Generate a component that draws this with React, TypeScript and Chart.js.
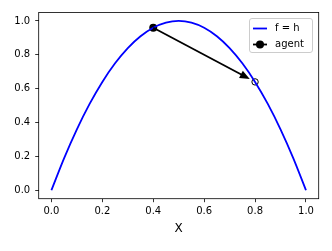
import React, { useEffect, useRef } from "react";
import { Chart, registerables } from "chart.js";
Chart.register(...registerables);

const curveX = [0, 0.05, 0.1, 0.15, 0.2, 0.25, 0.3, 0.35, 0.4, 0.45, 0.5, 0.55, 0.6, 0.65, 0.7, 0.75, 0.8, 0.85, 0.9, 0.95, 1.0];
const curveY = [0, 0.19, 0.36, 0.51, 0.64, 0.75, 0.84, 0.91, 0.96, 0.99, 1.0, 0.99, 0.96, 0.91, 0.84, 0.75, 0.64, 0.51, 0.36, 0.19, 0];
const agentX = [0.4];
const agentY = [0.96];
const targetX = [0.8];
const targetY = [0.64];
const xTicks = [0, 0.2, 0.4, 0.6, 0.8, 1.0];
const yTicks = [0, 0.2, 0.4, 0.6, 0.8, 1.0];
const seriesLabels = ["f = h", "agent"];
const xTitle = "X";

const FONT = "'DejaVu Sans', sans-serif";

const overlay = {
  id: "overlay",
  afterDatasetsDraw(chart: any) {
    const { ctx, scales } = chart;
    const xs = scales.x, ys = scales.y;
    const x0 = xs.getPixelForValue(agentX[0]);
    const y0 = ys.getPixelForValue(agentY[0]);
    const x1 = xs.getPixelForValue(targetX[0]);
    const y1 = ys.getPixelForValue(targetY[0]);
    const dx = x1 - x0, dy = y1 - y0;
    const len = Math.hypot(dx, dy);
    const ux = dx / len, uy = dy / len;
    const shrink = 6;
    const tx = x1 - ux * shrink, ty = y1 - uy * shrink;
    const headLen = 10, headW = 4;
    const bx = tx - ux * headLen, by = ty - uy * headLen;
    ctx.save();
    ctx.strokeStyle = "#000";
    ctx.fillStyle = "#000";
    ctx.lineWidth = 1.8;
    ctx.beginPath();
    ctx.moveTo(x0, y0);
    ctx.lineTo(bx + ux * 2, by + uy * 2);
    ctx.stroke();
    ctx.beginPath();
    ctx.moveTo(tx, ty);
    ctx.lineTo(bx - uy * headW, by + ux * headW);
    ctx.lineTo(bx + uy * headW, by - ux * headW);
    ctx.closePath();
    ctx.fill();
    ctx.restore();
  },
  afterDraw(chart: any) {
    const { ctx, chartArea } = chart;
    ctx.save();
    ctx.strokeStyle = "#000";
    ctx.lineWidth = 0.8;
    ctx.strokeRect(chartArea.left, chartArea.top, chartArea.right - chartArea.left, chartArea.bottom - chartArea.top);
    const lx = 249.5, ly = 18.5, lw = 63, lh = 34, r = 2.5;
    ctx.beginPath();
    ctx.moveTo(lx + r, ly);
    ctx.lineTo(lx + lw - r, ly);
    ctx.quadraticCurveTo(lx + lw, ly, lx + lw, ly + r);
    ctx.lineTo(lx + lw, ly + lh - r);
    ctx.quadraticCurveTo(lx + lw, ly + lh, lx + lw - r, ly + lh);
    ctx.lineTo(lx + r, ly + lh);
    ctx.quadraticCurveTo(lx, ly + lh, lx, ly + lh - r);
    ctx.lineTo(lx, ly + r);
    ctx.quadraticCurveTo(lx, ly, lx + r, ly);
    ctx.closePath();
    ctx.fillStyle = "rgba(255,255,255,0.8)";
    ctx.fill();
    ctx.strokeStyle = "#cccccc";
    ctx.lineWidth = 1;
    ctx.stroke();
    const rows = [28.5, 44.5];
    ctx.strokeStyle = "#0000ff";
    ctx.lineWidth = 1.8;
    ctx.beginPath();
    ctx.moveTo(253, rows[0]);
    ctx.lineTo(267, rows[0]);
    ctx.stroke();
    ctx.strokeStyle = "#000";
    ctx.beginPath();
    ctx.moveTo(253, rows[1]);
    ctx.lineTo(267, rows[1]);
    ctx.stroke();
    ctx.fillStyle = "#000";
    ctx.beginPath();
    ctx.arc(260, rows[1], 4, 0, Math.PI * 2);
    ctx.fill();
    ctx.font = `10px ${FONT}`;
    ctx.textBaseline = "middle";
    ctx.textAlign = "left";
    ctx.fillStyle = "#000";
    ctx.fillText(seriesLabels[0], 275, rows[0]);
    ctx.fillText(seriesLabels[1], 275, rows[1]);
    ctx.restore();
  },
};

export default function App() {
  const ref = useRef<HTMLCanvasElement>(null);
  useEffect(() => {
    const canvas = ref.current!;
    const chart = new Chart(canvas, {
      type: "scatter",
      data: {
        datasets: [
          {
            label: seriesLabels[0],
            data: curveX.map((x, i) => ({ x, y: curveY[i] })),
            showLine: true,
            borderColor: "#0000ff",
            borderWidth: 1.8,
            pointRadius: 0,
            cubicInterpolationMode: "monotone",
            fill: false,
          } as any,
          {
            label: seriesLabels[1],
            data: agentX.map((x, i) => ({ x, y: agentY[i] })),
            showLine: false,
            pointRadius: 4,
            pointBackgroundColor: "#000",
            pointBorderColor: "#000",
            pointBorderWidth: 0,
          },
          {
            label: "target",
            data: targetX.map((x, i) => ({ x, y: targetY[i] })),
            showLine: false,
            pointRadius: 3.2,
            pointBackgroundColor: "rgba(0,0,0,0)",
            pointBorderColor: "#000",
            pointBorderWidth: 1,
          },
        ],
      },
      options: {
        responsive: false,
        animation: false,
        events: [],
        layout: { padding: { left: 0, top: 12.5, right: 13.3, bottom: 0 } },
        plugins: { legend: { display: false }, tooltip: { enabled: false } },
        scales: {
          x: {
            type: "linear",
            min: -0.05,
            max: 1.05,
            afterBuildTicks: (s: any) => { s.ticks = xTicks.map((v) => ({ value: v })); },
            afterFit: (s: any) => { s.height = 52.3; },
            ticks: {
              callback: (v: any) => Number(v).toFixed(1),
              font: { family: FONT, size: 10 },
              color: "#000",
              padding: 3,
              maxRotation: 0,
              autoSkip: false,
            },
            grid: { drawOnChartArea: false, drawTicks: true, tickLength: 3.5, color: "#000", lineWidth: 0.8 },
            border: { display: false },
            title: { display: true, text: xTitle, font: { family: FONT, size: 12 }, color: "#000", padding: { top: 0, bottom: 15 } },
          },
          y: {
            type: "linear",
            min: -0.05,
            max: 1.05,
            afterBuildTicks: (s: any) => { s.ticks = yTicks.map((v) => ({ value: v })); },
            afterFit: (s: any) => { s.width = 38.7; },
            ticks: {
              callback: (v: any) => Number(v).toFixed(1),
              font: { family: FONT, size: 10 },
              color: "#000",
              padding: 5,
              autoSkip: false,
            },
            grid: { drawOnChartArea: false, drawTicks: true, tickLength: 3.5, color: "#000", lineWidth: 0.8 },
            border: { display: false },
          },
        },
      },
      plugins: [overlay],
    });
    return () => chart.destroy();
  }, []);
  return (
    <div style={{ position: "fixed", left: 0, top: 0, width: 332, height: 251, background: "#fff" }}>
      <canvas ref={ref} width={332} height={251} style={{ display: "block" }} />
    </div>
  );
}
